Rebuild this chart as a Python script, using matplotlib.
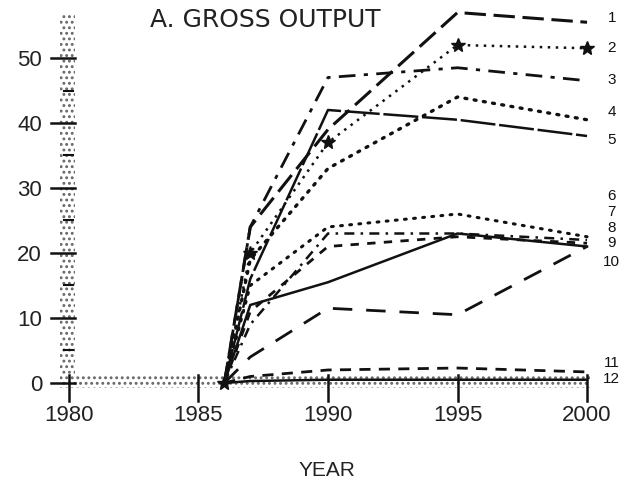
import numpy as np
import matplotlib.pyplot as plt
import matplotlib as mpl
from matplotlib.patches import Rectangle

mpl.style.use('default')
plt.rcParams['font.family'] = ['Liberation Sans', 'DejaVu Sans']
plt.rcParams['hatch.linewidth'] = 1.3
plt.rcParams['hatch.color'] = '#666666'

# data
years = [1986, 1987, 1990, 1995, 2000]
s1 = [0, 24, 39, 57, 55.5]
s2 = [0, 20, 37, 52, 51.5]
s3 = [0, 24, 47, 48.5, 46.5]
s4 = [0, 19, 33, 44, 40.5]
s5 = [0, 16, 42, 40.5, 38]
s6 = [0, 15, 24, 26, 22.5]
s7 = [0, 12, 15.5, 23, 21]
s8 = [0, 11, 21, 22.5, 21.5]
s9 = [0, 9, 23, 23, 22]
s10 = [0, 4, 11.5, 10.5, 21]
s11 = [0, 1, 2, 2.3, 1.7]
s12 = [0, 0.3, 0.5, 0.5, 0.5]
series = [s1, s2, s3, s4, s5, s6, s7, s8, s9, s10, s11, s12]
names = ['1', '2', '3', '4', '5', '6', '7', '8', '9', '10', '11', '12']

xticks = [1980, 1985, 1990, 1995, 2000]
yticks = [0, 10, 20, 30, 40, 50]

# line styles (dash patterns) for each curve
K = '#111111'
styles = [
    dict(lw=2.2, dashes=(7, 2.5)),
    dict(lw=1.8, dashes=(1, 2.2), marker='*', ms=10),
    dict(lw=2.0, dashes=(6, 3, 1.5, 3)),
    dict(lw=2.4, dashes=(0.6, 2.2), dash_capstyle='round'),
    dict(lw=1.8, dashes=(14, 1.5)),
    dict(lw=2.2, dashes=(0.6, 2.4), dash_capstyle='round'),
    dict(lw=1.8, ls='-'),
    dict(lw=2.0, dashes=(3, 3)),
    dict(lw=1.8, dashes=(4, 2.5, 1, 2.5)),
    dict(lw=2.0, dashes=(7, 5)),
    dict(lw=2.0, dashes=(4, 3)),
    dict(lw=1.8, ls='-'),
]
label_pos = [56.2, 51.5, 46.6, 41.7, 37.4, 28.8, 26.3, 23.9, 21.5, 18.6, 3.1, 0.6]

fig = plt.figure(figsize=(6.22, 4.95), dpi=100)
ax = fig.add_axes([0.090, 0.2066, 0.8746, 0.7747])
ax.set_xlim(1979.5, 2000.5)
ax.set_ylim(-1.5, 57.5)
for sp in ax.spines.values():
    sp.set_visible(False)

# stippled axes bands
ax.add_patch(Rectangle((1979.65, -0.8), 0.58, 57.6, facecolor='white',
                       edgecolor='#666666', hatch='...', lw=0, clip_on=False))
ax.add_patch(Rectangle((1979.65, -0.8), 20.45, 2.0, facecolor='white',
                       edgecolor='#666666', hatch='...', lw=0, clip_on=False))

for s, st, nm, ly in zip(series, styles, names, label_pos):
    ax.plot(years, s, color=K, clip_on=False, **st)
    ax.text(2000.95, ly, nm, fontsize=11, ha='center', va='center', color=K)

# ticks drawn by hand so they cross the stippled band
ax.set_xticks(xticks)
ax.set_xticklabels([str(x) for x in xticks], fontsize=16, color='#222222')
ax.set_yticks(yticks)
ax.set_yticklabels([str(y) for y in yticks], fontsize=16, color='#222222')
ax.tick_params(axis='x', length=0, pad=9)
ax.tick_params(axis='y', length=0, pad=10)
for y in yticks:
    ax.plot([1979.3, 1980.25], [y, y], color=K, lw=1.8, clip_on=False)
for y in [5, 15, 25, 35, 45]:
    ax.plot([1979.8, 1980.15], [y, y], color=K, lw=1.5, clip_on=False)
for x in xticks:
    ax.plot([x, x], [1.2, -2.7], color=K, lw=1.8, clip_on=False)

ax.text(1987.6, 55.8, 'A. GROSS OUTPUT', fontsize=18, ha='center', va='center',
        color='#222222', family='DejaVu Sans')
fig.text(0.526, 0.05, 'YEAR', fontsize=15, ha='center', va='center',
         color='#222222')

fig.savefig('out.png', dpi=100)
